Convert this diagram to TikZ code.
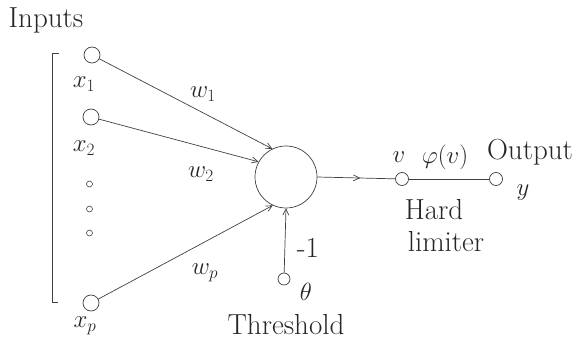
\documentclass[tikz,border=0pt]{standalone}
\usetikzlibrary{arrows.meta,decorations.markings}
\begin{document}
\begin{tikzpicture}[x=1pt,y=-1pt,
  line width=0.7pt, draw=black!75,
  inp/.style={circle,draw=black!75,minimum size=16pt,inner sep=0pt},
  smallc/.style={circle,draw=black!75,minimum size=13pt,inner sep=0pt},
  dotc/.style={circle,draw=black!75,minimum size=6pt,inner sep=0pt,line width=0.6pt},
  neuron/.style={circle,draw=black!75,minimum size=62pt,inner sep=0pt},
  lbl/.style={font=\fontsize{29}{31}\selectfont,text=black!85,inner sep=0pt},
  var/.style={font=\fontsize{27}{29}\selectfont,text=black!85,inner sep=0pt},
  arr/.style={draw=black!75,-{Straight Barb[length=6pt,width=6pt]}},
  midarr/.style={draw=black!75,postaction={decorate},decoration={markings,mark=at position 0.55 with {\arrow{Straight Barb[length=6pt,width=6pt]}}}}]
\useasboundingbox (0,0) rectangle (576,342);
% bracket
\coordinate (bt) at (59,53);
\coordinate (btl) at (52.5,53);
\coordinate (bbl) at (52.5,302);
\coordinate (bb) at (58,302);
\draw (bt) -- (btl) -- (bbl) -- (bb);
% nodes
\node[lbl] (inputs) at (46,20) {Inputs};
\node[inp] (x1) at (92,55) {};
\node[inp] (x2) at (91,117) {};
\node[dotc] (d1) at (89.5,184) {};
\node[dotc] (d2) at (89.5,209) {};
\node[dotc] (d3) at (89.5,233) {};
\node[inp] (xp) at (91,303) {};
\node[var] (lx1) at (84,84) {$x_1$};
\node[var] (lx2) at (84,148) {$x_2$};
\node[var] (lxp) at (85,326) {$x_p$};
\node[neuron] (n) at (286,177) {};
\node[smallc,minimum size=12pt] (th) at (284,279) {};
\node[smallc] (v) at (402,179) {};
\node[smallc] (out) at (496,179) {};
% weights
\node[var] (w1) at (203,94) {$w_1$};
\node[var] (w2) at (201,174) {$w_2$};
\node[var] (wp) at (205,273) {$w_p$};
% other labels
\node[lbl] (m1) at (308,248) {-1};
\node[var] (theta) at (306,292) {$\theta$};
\node[lbl] (thr) at (286,325) {Threshold};
\node[var] (lv) at (399,157) {$v$};
\node[var] (phi) at (445,157) {$\varphi(v)$};
\node[lbl] (outl) at (530,152) {Output};
\node[var] (ly) at (523,193) {$y$};
\node[lbl] (hard) at (434,210) {Hard};
\node[lbl] (lim) at (446,242) {limiter};
% connectors
\draw[arr] (x1) -- (n.116);
\draw[arr] (x2) -- (n.151);
\draw[arr] (xp) -- (n.245);
\draw[arr] (th) -- (n.south);
\draw[midarr] (n.east) -- (v);
\draw (v) -- (out);
\end{tikzpicture}
\end{document}
